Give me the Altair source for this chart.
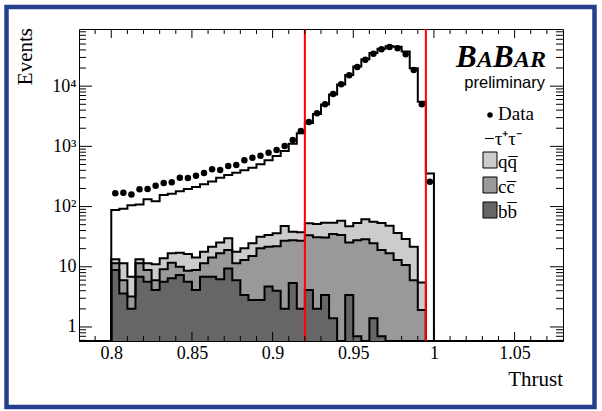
import altair as alt
import pandas as pd

# ---------------- data ----------------
BIN_EDGES = [round(0.8 + 0.005 * i, 3) for i in range(41)]   # 40 bins, 0.80 .. 1.00

DATA = [166, 170, 158, 194, 196, 222, 247, 253, 302, 299,
        326, 361, 417, 405, 472, 491, 588, 649, 701, 786,
        871, 1016, 1277, 1803, 2542, 3548, 5003, 7420, 10760, 15180,
        20840, 27560, 34670, 41020, 44790, 42640, 33880, 18580, 5003, 259]

# outline of the tau+tau- histogram (top of the MC stack)
TAUTAU = [88, 92, 105, 108, 132, 122, 155, 163, 180, 195,
          212, 235, 262, 300, 335, 365, 400, 440, 505, 590,
          690, 840, 1100, 1650, 2450, 3450, 4950, 7300, 10700, 15300,
          21200, 28000, 35500, 42000, 46000, 45000, 37500, 19800, 5500, 355]

QQ = [1.9, 5.4, 3.65, 1.9, 2.55, 5.0, 4.7, 5.0, 7.1, 7.7,
      5.45, 6.4, 7.3, 8.5, 10.7, 6.4, 7.3, 9.4, 11.3, 12.2,
      14, 20.6, 10.8, 10.4, 19.3, 20.4, 23.5, 19, 24.5, 21.8,
      26, 32.9, 31.5, 34.5, 31.2, 23.5, 18.1, 15.6, 3.58, 0]

CC = [2.55, 2.4, 1.2, 4.55, 3.19, 1.9, 3.44, 5.25, 2.7, 2.94,
      4.75, 4.55, 7.45, 10.5, 9.6, 5.4, 9.6, 12.3, 17.5, 16.9,
      18, 25, 22.1, 25, 29.4, 29, 27.1, 33.6, 33.8, 21.8,
      26.8, 28.6, 23.1, 18.3, 16.8, 13, 10.7, 6.0, 1.92, 0]

BB = [8.85, 3.6, 2.0, 6.85, 5.66, 4.1, 5.66, 6.45, 7.3, 5.66,
      4.1, 6.85, 6.85, 6.2, 9.4, 6.0, 3.4, 2.8, 2.8, 4.7,
      4.0, 2.0, 5.4, 2.0, 4.1, 2.0, 3.4, 1.4, 0, 3.4,
      0.7, 0, 1.4, 0.7, 0, 0, 0, 0, 0, 0]

CUTS = [0.92, 0.995]

X_DOMAIN = [0.78, 1.08]
Y_DOMAIN = [0.585, 89000]
FLOOR = 0.1

X_LABELS = [0.8, 0.85, 0.9, 0.95, 1.0, 1.05]
X_MINOR = [0.79, 0.81, 0.82, 0.83, 0.84, 0.86, 0.87, 0.88, 0.89,
           0.91, 0.92, 0.93, 0.94, 0.96, 0.97, 0.98, 0.99,
           1.01, 1.02, 1.03, 1.04, 1.06, 1.07]
Y_LABELS = [1, 10, 100, 1000, 10000]
Y_LABEL_TEXT = ["1", "10", "10²", "10³", "10⁴"]
Y_MINOR = [0.6, 0.7, 0.8, 0.9,
           2, 3, 4, 5, 6, 7, 8, 9,
           20, 30, 40, 50, 60, 70, 80, 90,
           200, 300, 400, 500, 600, 700, 800, 900,
           2000, 3000, 4000, 5000, 6000, 7000, 8000, 9000,
           20000, 30000, 40000, 50000, 60000, 70000, 80000]

# ---------------- layout ----------------
W, H = 484, 312
PAD = {"left": 79, "top": 29, "right": 39, "bottom": 70}
SERIF = "Liberation Serif"
SANS = "Liberation Sans"

xs = alt.Scale(domain=X_DOMAIN, zero=False, nice=False)
ys = alt.Scale(type="log", domain=Y_DOMAIN, nice=False, clamp=True)

label_map = "{" + ",".join(f"'{v}':'{t}'" for v, t in zip(Y_LABELS, Y_LABEL_TEXT)) + "}"
xaxis = alt.Axis(values=X_LABELS, labelExpr="format(datum.value, '.2~f')", ticks=False,
                 domain=False, grid=False, title=None, labelFont=SERIF, labelFontSize=18,
                 labelColor="black", labelPadding=3, labelFlush=False)
yaxis = alt.Axis(values=Y_LABELS, labelExpr=f"{label_map}[''+datum.value]", ticks=False,
                 domain=False, grid=False, title=None, labelFont=SERIF, labelFontSize=18,
                 labelColor="black", labelPadding=3, labelFlush=False)

X = alt.X("x:Q", scale=xs, axis=xaxis)
Y = alt.Y("y:Q", scale=ys, axis=yaxis)


def cumulate(*series):
    return [sum(vals) for vals in zip(*series)]


def step_line(values, left=None, right=None):
    px, py = [], []
    if left is not None:
        px.append(left); py.append(FLOOR)
    px.append(BIN_EDGES[0]); py.append(FLOOR)
    for e, v in zip(BIN_EDGES[:-1], values):
        px.append(e); py.append(max(v, FLOOR))
    px.append(BIN_EDGES[-1]); py.append(max(values[-1], FLOOR))
    px.append(BIN_EDGES[-1]); py.append(FLOOR)
    if right is not None:
        px.append(right); py.append(FLOOR)
    return pd.DataFrame({"x": px, "y": py, "o": list(range(len(px)))})


def step_area(values):
    vals = list(values) + [values[-1]]
    return pd.DataFrame({"x": BIN_EDGES, "y": [max(v, FLOOR) for v in vals],
                         "base": [FLOOR] * len(BIN_EDGES)})


bb_c = BB
cc_c = cumulate(BB, CC)
qq_c = cumulate(BB, CC, QQ)

layers = []
for vals, col in [(qq_c, "#cccccc"), (cc_c, "#999999"), (bb_c, "#666666")]:
    layers.append(alt.Chart(step_area(vals)).mark_area(interpolate="step-after", color=col)
                  .encode(x=X, y=Y, y2="base:Q"))
for vals in [qq_c, cc_c, bb_c]:
    layers.append(alt.Chart(step_line(vals)).mark_line(interpolate="step-after", color="black",
                                                       strokeWidth=2)
                  .encode(x=X, y=Y, order="o:Q"))
layers.append(alt.Chart(step_line(TAUTAU, X_DOMAIN[0], X_DOMAIN[1]))
              .mark_line(interpolate="step-after", color="black", strokeWidth=2)
              .encode(x=X, y=Y, order="o:Q"))

# cut lines
layers.append(alt.Chart(pd.DataFrame({"x": CUTS})).mark_rule(color="#ff0000", strokeWidth=2)
              .encode(x=X))

# data points
centers = [round(e + 0.0025, 4) for e in BIN_EDGES[:-1]]
layers.append(alt.Chart(pd.DataFrame({"x": centers, "y": DATA}))
              .mark_circle(size=42, color="black", opacity=1).encode(x=X, y=Y))

# inward ticks on all four sides
for vals, ln in [(Y_LABELS, 13), (Y_MINOR, 7)]:
    df = pd.DataFrame({"y": vals})
    layers.append(alt.Chart(df).mark_rule(color="black", strokeWidth=1)
                  .encode(y=Y, x=alt.value(0), x2=alt.value(ln)))
    layers.append(alt.Chart(df).mark_rule(color="black", strokeWidth=1)
                  .encode(y=Y, x=alt.value(W), x2=alt.value(W - ln)))
for vals, ln in [(X_LABELS, 9), (X_MINOR, 5)]:
    df = pd.DataFrame({"x": vals})
    layers.append(alt.Chart(df).mark_rule(color="black", strokeWidth=1)
                  .encode(x=X, y=alt.value(H), y2=alt.value(H - ln)))
    layers.append(alt.Chart(df).mark_rule(color="black", strokeWidth=1)
                  .encode(x=X, y=alt.value(0), y2=alt.value(ln)))


def text(t, x, y, size, font=SERIF, align="left", angle=0, weight="normal", style="normal",
         baseline="alphabetic"):
    return (alt.Chart(pd.DataFrame({"t": [t]}))
            .mark_text(font=font, fontSize=size, align=align, baseline=baseline, angle=angle,
                       fontWeight=weight, fontStyle=style, color="black")
            .encode(text="t:N", x=alt.value(x), y=alt.value(y)))


# axis titles
layers.append(text("Events", -47, -1, 21, align="right", angle=270))
layers.append(text("Thrust", W, 357, 21, align="right"))

# BABAR logo
layers.append(text("B", 377, 38, 31, weight="bold", style="italic"))
layers.append(text("A", 398, 38, 24, weight="bold", style="italic"))
layers.append(text("B", 414, 38, 31, weight="bold", style="italic"))
layers.append(text("AR", 435, 38, 24, weight="bold", style="italic"))
layers.append(text("preliminary", 466, 59, 16.5, font=SANS, align="right"))

# legend
layers.append(alt.Chart(pd.DataFrame({"a": [0]})).mark_circle(size=30, color="black", opacity=1)
              .encode(x=alt.value(411), y=alt.value(86)))
layers.append(text("Data", 419, 91, 19))
layers.append(text("−τ⁺τ⁻", 405, 116, 19))
for i, (lab, col) in enumerate([("qq\u0305", "#cccccc"), ("cc\u0305", "#999999"),
                                ("bb\u0305", "#666666")]):
    y0 = 123 + 25 * i
    layers.append(alt.Chart(pd.DataFrame({"a": [0]}))
                  .mark_rect(color=col, stroke="black", strokeWidth=1)
                  .encode(x=alt.value(404), x2=alt.value(418), y=alt.value(y0), y2=alt.value(y0 + 16)))
    layers.append(text(lab, 419, y0 + 16, 19))

# blue frame around the picture
layers.append(alt.Chart(pd.DataFrame({"a": [0]}))
              .mark_rect(fill="white", fillOpacity=0, stroke="#263f8c", strokeWidth=4.5)
              .encode(x=alt.value(-72.5), x2=alt.value(515.5), y=alt.value(-22), y2=alt.value(378)))

chart = (alt.layer(*layers)
         .properties(width=W, height=H, padding=PAD, autosize=alt.AutoSizeParams(type="none"),
                     background="white")
         .configure_view(stroke="black", strokeWidth=1))

chart.save("out.html", embed_options={"renderer": "svg", "actions": False})
